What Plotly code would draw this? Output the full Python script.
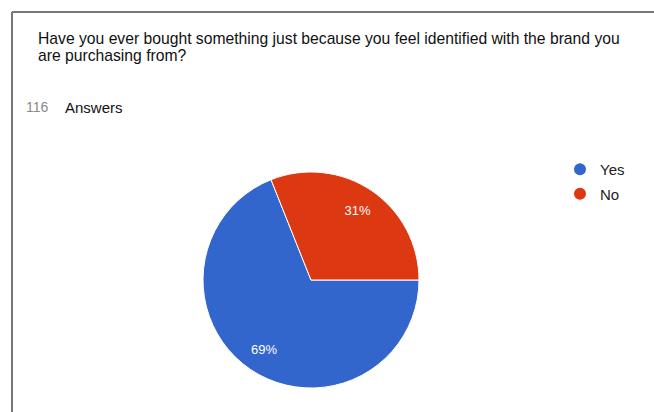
import plotly.graph_objects as go

labels = ["Yes", "No"]
counts = [80, 36]
colors = ["#3366cc", "#dc3912"]
question_lines = ["Have you ever bought something just because you feel identified with the brand you",
                  "are purchasing from?"]
total_answers = 116

W, H = 654, 412
cx, cy, r = 311, 280, 108

fig = go.Figure()
# main pie (slices)
fig.add_trace(go.Pie(
    labels=labels, values=counts, sort=False, direction="clockwise", rotation=90,
    marker=dict(colors=colors, line=dict(color="white", width=1)),
    textinfo="none", showlegend=False, hoverinfo="label+percent",
    domain=dict(x=[(cx - r)/W, (cx + r)/W], y=[1-(cy + r)/H, 1-(cy - r)/H]),
))
# transparent inner pie only used to place percentage labels further out
ri = 0.65 * r
fig.add_trace(go.Pie(
    labels=labels, values=counts, sort=False, direction="clockwise", rotation=81,
    marker=dict(colors=["rgba(0,0,0,0)"]*2, line=dict(width=0)),
    texttemplate="%{percent:.0%}", textposition="outside",
    outsidetextfont=dict(color="white", size=13, family="Liberation Sans"),
    showlegend=False, hoverinfo="skip",
    domain=dict(x=[(cx - ri)/W, (cx + ri)/W], y=[1-(cy + ri)/H, 1-(cy - ri)/H]),
))
for lab, col in zip(labels, colors):
    fig.add_trace(go.Scatter(x=[None], y=[None], mode="markers", name=lab, legendgroup=lab,
                             marker=dict(color=col, size=12, symbol="circle")))

annotations = []
for i, line in enumerate(question_lines):
    annotations.append(dict(text=line, xref="paper", yref="paper", x=36/W, y=1-(39 + 17*i)/H,
                            xanchor="left", yanchor="middle", showarrow=False,
                            font=dict(size=15.7, color="#111")))
annotations += [
    dict(text=str(total_answers), xref="paper", yref="paper", x=24/W, y=1-107/H, xanchor="left", yanchor="middle",
         showarrow=False, font=dict(size=14, color="#8a8a8a")),
    dict(text="Answers", xref="paper", yref="paper", x=63/W, y=1-107/H, xanchor="left", yanchor="middle",
         showarrow=False, font=dict(size=15, color="#111")),
]

fig.update_layout(
    width=W, height=H, margin=dict(l=0, r=0, t=0, b=0),
    paper_bgcolor="white", plot_bgcolor="white",
    xaxis=dict(visible=False), yaxis=dict(visible=False),
    font=dict(family="Liberation Sans, Arial, sans-serif", color="#222"),
    legend=dict(x=560/W, y=1-153/H, xanchor="left", yanchor="top",
                font=dict(size=15, color="#222"), tracegroupgap=2, bgcolor="rgba(0,0,0,0)"),
    shapes=[
        dict(type="line", xref="paper", yref="paper", x0=12/W, x1=1, y0=1-12/H, y1=1-12/H,
             line=dict(color="#777", width=2)),
        dict(type="line", xref="paper", yref="paper", x0=12/W, x1=12/W, y0=0, y1=1-12/H,
             line=dict(color="#777", width=2)),
    ],
    annotations=annotations,
)
fig.write_html("out.html")
